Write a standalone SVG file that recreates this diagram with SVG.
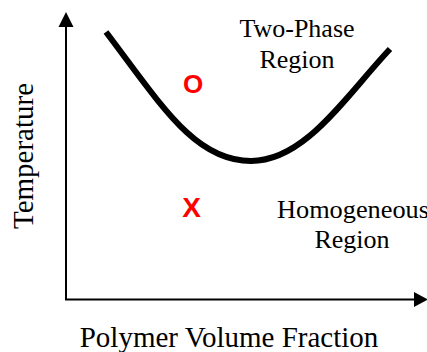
<svg xmlns="http://www.w3.org/2000/svg" width="427" height="352" viewBox="0 0 427 352">
<style>
.lbl{font-family:"Liberation Serif","Times New Roman",serif;fill:#000}
.mark{font-family:"Liberation Sans",Arial,sans-serif;font-weight:bold;fill:#ff0000;text-anchor:middle}
.axis{stroke:#000;stroke-width:2;fill:none}
</style>
<rect width="427" height="352" fill="#fff"/>
<g id="axes">
<line class="axis" x1="66" y1="300" x2="66" y2="24"/>
<polygon points="66,12 58.5,27 73.5,27" fill="#000"/>
<line class="axis" x1="65" y1="299.5" x2="416" y2="299.5"/>
<polygon points="428,299.5 414,292 414,307" fill="#000"/>
</g>
<g id="curve">
<path d="M106,32 C162,106 195,161 251,161 C305,161 345,97 390,49" fill="none" stroke="#000" stroke-width="6"/>
</g>
<g id="labels">
<text class="lbl" x="229" y="347" font-size="29" text-anchor="middle">Polymer Volume Fraction</text>
<text class="lbl" font-size="29" text-anchor="middle" transform="translate(33,156) rotate(-90)">Temperature</text>
<text class="lbl" x="297" y="37" font-size="26" text-anchor="middle">Two-Phase</text>
<text class="lbl" x="297" y="68" font-size="26" text-anchor="middle">Region</text>
<text class="lbl" x="277" y="218" font-size="26" textLength="152" lengthAdjust="spacingAndGlyphs">Homogeneous</text>
<text class="lbl" x="352" y="248" font-size="26" text-anchor="middle">Region</text>
<text class="mark" x="193" y="93" font-size="26">O</text>
<text class="mark" x="191.5" y="217" font-size="28">X</text>
</g>
</svg>
